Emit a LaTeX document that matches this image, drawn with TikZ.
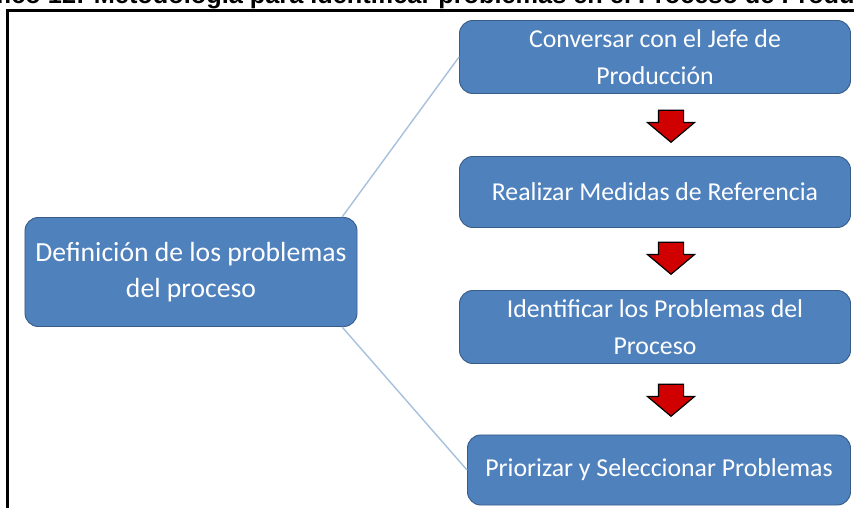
\documentclass[tikz,border=0pt]{standalone}
\usepackage{fontspec}
\setmainfont{Carlito}
\newfontfamily\titlefont{Liberation Sans}
\usetikzlibrary{shapes.arrows}

\definecolor{cajaazul}{HTML}{4F81BD}
\definecolor{bordeazul}{HTML}{385D8A}
\definecolor{lineaazul}{HTML}{A7C0DE}
\definecolor{rojoflecha}{HTML}{D00000}

\begin{document}
\begin{tikzpicture}[x=0.03cm, y=-0.03cm,
    caja/.style={rectangle, rounded corners=0.4cm, draw=bordeazul, fill=cajaazul,
                 text=white, align=center, font=\fontsize{22}{31}\selectfont,
                 line width=0.8pt, inner sep=0pt},
    flecha/.style={single arrow, draw=black, fill=rojoflecha, line width=1pt,
                   rotate=-90, minimum height=0.96cm, minimum width=1.38cm,
                   single arrow head extend=0.33cm, single arrow tip angle=100,
                   inner xsep=0pt, inner ysep=0.36cm},
    conector/.style={draw=lineaazul, line width=1.2pt}]

\useasboundingbox (0,0) rectangle (854,508);
\clip (0,0) rectangle (854,508);

\node[anchor=base east, inner sep=0pt, font=\titlefont\bfseries\fontsize{21.6}{25}\selectfont]
    (titulo) at (921,4) {Gráfico 12: Metodología para identificar problemas en el Proceso de Producción};
\draw[line width=0.09cm] (7.5,520) -- (7.5,10.8) -- (870,10.8);

\node[caja, minimum width=9.96cm, minimum height=3.27cm, font=\fontsize{23.6}{31}\selectfont]
    (def) at (191,272) {Definición de los problemas\\del proceso};
\node[caja, minimum width=11.73cm, minimum height=2.19cm] (conv) at (655,57) {Conversar con el Jefe de\\Producción};
\node[caja, minimum width=11.73cm, minimum height=2.13cm] (medi) at (655,192) {Realizar Medidas de Referencia};
\node[caja, minimum width=11.73cm, minimum height=2.19cm] (iden) at (655,327) {Identificar los Problemas del\\Proceso};
\node[caja, minimum width=11.49cm, minimum height=2.10cm] (prio) at (659,470) {Priorizar y Seleccionar Problemas};

\node[flecha] (f1) at (671,121) {};
\node[flecha] (f2) at (671,253) {};
\node[flecha] (f3) at (671,395) {};

\path
    (def.20) edge[conector] (conv.west)
    (def.-20) edge[conector] (prio.west);
\end{tikzpicture}
\end{document}
